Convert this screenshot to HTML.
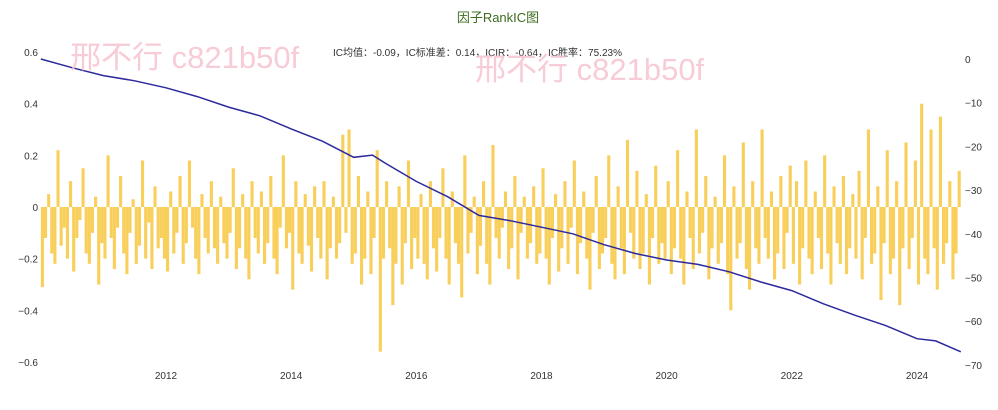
<!DOCTYPE html>
<html><head><meta charset="utf-8"><style>
body{margin:0;background:#fff;font-family:"Liberation Sans","Noto Sans CJK SC",sans-serif}
svg text{font-family:"Liberation Sans","Noto Sans CJK SC",sans-serif}
</style></head><body>
<svg id="c" width="998" height="405" xmlns="http://www.w3.org/2000/svg">
<text x="498" y="22" text-anchor="middle" font-size="13" fill="#3d6b20">因子RankIC图</text>
<text x="333" y="56" font-size="10" fill="#333">IC均值：-0.09，IC标准差：0.14，ICIR：-0.64，IC胜率：75.23%</text>
<g id="bars"></g>
<g id="ax"></g>
<path id="line" fill="none" stroke="#2c2a9c" stroke-width="1.5"/>
<text x="70" y="68" font-size="31" fill="#f6c4cf" opacity="0.85">邢不行 c821b50f</text>
<text x="475" y="80" font-size="31" fill="#f6c4cf" opacity="0.85">邢不行 c821b50f</text>
</svg>
<script>
const yearTicks=[2012,2014,2016,2018,2020,2022,2024];
const leftTicks=[0.6,0.4,0.2,0,-0.2,-0.4,-0.6];
const rightTicks=[0,-10,-20,-30,-40,-50,-60,-70];
const icValues=[
-0.31,-0.12,0.05,-0.18,-0.22,0.22,-0.15,-0.08,-0.2,0.1,-0.25,-0.12,-0.05,0.15,-0.18,-0.22,-0.1,0.04,-0.3,-0.14,
-0.2,0.2,-0.12,-0.24,-0.08,0.12,-0.18,-0.26,-0.1,0.03,-0.22,-0.15,0.18,-0.2,-0.06,-0.24,0.08,-0.16,-0.12,-0.2,
-0.25,0.06,-0.18,-0.1,0.12,-0.22,-0.14,0.18,-0.08,-0.2,-0.26,0.05,-0.12,-0.18,0.1,-0.16,-0.22,0.04,-0.14,-0.2,
-0.1,0.15,-0.24,-0.16,0.05,-0.2,-0.28,0.1,-0.12,-0.18,0.06,-0.22,-0.14,0.12,-0.2,-0.26,-0.08,0.2,-0.16,-0.1,
-0.32,0.1,-0.18,-0.22,0.05,-0.15,-0.25,0.08,-0.12,-0.2,0.1,-0.28,-0.16,0.04,-0.2,-0.14,0.28,-0.1,0.3,-0.22,
-0.18,0.12,-0.3,-0.2,0.06,-0.26,-0.12,0.22,-0.56,-0.2,0.1,-0.16,-0.38,-0.22,0.08,-0.3,-0.14,0.18,-0.24,-0.12,
-0.2,0.05,-0.22,-0.28,0.1,-0.16,-0.25,-0.12,0.15,-0.2,-0.3,0.06,-0.14,-0.22,-0.35,0.2,-0.18,-0.1,0.04,-0.26,
-0.15,0.1,-0.22,-0.3,0.24,-0.12,-0.2,-0.08,0.06,-0.24,-0.16,0.12,-0.28,-0.1,0.04,-0.2,-0.14,0.08,-0.22,-0.18,
0.15,-0.2,-0.3,-0.12,0.05,-0.25,-0.16,0.1,-0.22,-0.08,0.18,-0.26,-0.14,0.06,-0.2,-0.32,-0.1,0.12,-0.24,-0.18,
-0.12,0.2,-0.22,-0.28,0.08,-0.16,-0.26,0.26,-0.1,-0.2,0.14,-0.24,-0.18,0.05,-0.3,-0.12,0.16,-0.22,-0.14,-0.2,
0.1,-0.26,-0.16,0.22,-0.2,-0.3,0.06,-0.12,-0.24,0.3,-0.18,-0.1,0.12,-0.28,-0.16,0.04,-0.22,-0.14,0.2,-0.26,
-0.4,0.08,-0.2,-0.14,0.25,-0.24,-0.32,0.1,-0.16,-0.22,0.3,-0.12,-0.2,0.06,-0.28,-0.18,0.12,-0.24,-0.1,0.16,
-0.22,0.1,-0.3,-0.16,0.18,-0.2,-0.26,0.06,-0.12,-0.24,0.2,-0.18,-0.3,0.08,-0.14,-0.22,0.12,-0.26,-0.16,0.05,
-0.2,0.14,-0.28,-0.12,0.3,-0.22,-0.18,0.08,-0.36,-0.14,0.22,-0.26,-0.2,0.1,-0.38,-0.16,0.25,-0.24,-0.12,0.18,
-0.3,0.4,-0.2,-0.26,0.3,-0.16,-0.32,0.35,-0.22,-0.14,0.1,-0.28,-0.18,0.14];
const cumDates=[2010.0,2010.5,2011,2011.5,2012,2012.5,2013,2013.5,2014,2014.5,2015,2015.3,2015.5,2015.7,2016,2016.5,2017,2017.5,2018,2018.5,2019,2019.5,2020,2020.5,2021,2021.5,2022,2022.5,2023,2023.5,2024,2024.3,2024.7];
const cumValues=[0,-2,-3.8,-5,-6.6,-8.6,-11,-13,-16,-18.8,-22.5,-22,-23.8,-25.5,-28,-31.5,-35.8,-37,-38.5,-40,-42.5,-44.5,-46,-47,-48.7,-51,-53,-56,-58.6,-61,-64,-64.5,-67];
const X0=2010.0,X1=2024.7;
const xs=d=>166+(d-2012)*62.58;
const yL=v=>207-v*258.3;
const yR=v=>59-v*4.37;
const NS="http://www.w3.org/2000/svg";
const ax=document.getElementById('ax'),bars=document.getElementById('bars');
function mk(tag,attrs,parent,txt){const e=document.createElementNS(NS,tag);for(const k in attrs)e.setAttribute(k,attrs[k]);if(txt!==undefined)e.textContent=txt;parent.appendChild(e);return e;}
const step=(X1-X0)/icValues.length;
const bw=step*62.58;
icValues.forEach((v,i)=>{
  const d=X0+i*step+step/2;
  const y0=yL(0),y1=yL(v);
  const r=mk('rect',{x:xs(d)-bw/2,y:Math.min(y0,y1),width:bw,height:Math.max(0.5,Math.abs(y1-y0)),fill:'#f9cf5c'},bars);
  
  
});
leftTicks.forEach(t=>{
  const e=mk('text',{x:38,y:yL(t)+4,'text-anchor':'end','font-size':10,fill:'#333'},ax,t===0?'0':(t<0?'−'+Math.abs(t):String(t)));
  
  
});
rightTicks.forEach(t=>{
  const e=mk('text',{x:965,y:yR(t)+4,'font-size':10,fill:'#333'},ax,t===0?'0':'−'+Math.abs(t));
  
  
});
yearTicks.forEach(t=>{
  const e=mk('text',{x:xs(t),y:379,'text-anchor':'middle','font-size':10,fill:'#333'},ax,String(t));
  
  
});
document.getElementById('line').setAttribute('d',cumDates.map((d,i)=>(i?'L':'M')+xs(d).toFixed(1)+','+yR(cumValues[i]).toFixed(1)).join(''));
</script>
</body></html>
